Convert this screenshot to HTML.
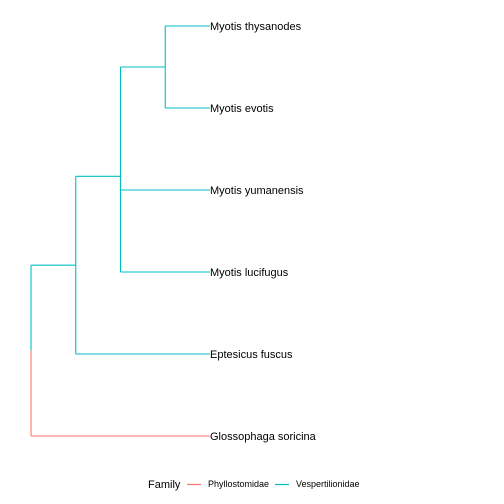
<!DOCTYPE html>
<html><head><meta charset="utf-8"><style>
html,body{margin:0;padding:0;background:#fff;}
svg{display:block;font-family:"Liberation Sans",sans-serif;}
</style></head><body>
<svg id="chart" width="504" height="504" xmlns="http://www.w3.org/2000/svg">
<g id="tree"></g>
<g>
<text x="148" y="488" font-size="11">Family</text>
<line x1="187" y1="484.5" x2="201" y2="484.5" stroke="#F8766D" stroke-width="1.2"/>
<text x="208" y="487" font-size="9">Phyllostomidae</text>
<line x1="275" y1="484.5" x2="289" y2="484.5" stroke="#00BFC4" stroke-width="1.2"/>
<text x="296" y="487" font-size="9">Vespertilionidae</text>
</g>
</svg>
<script>
// tips: name, family (order bottom to top)
const tipNames = ["Glossophaga soricina","Eptesicus fuscus","Myotis lucifugus","Myotis yumanensis","Myotis evotis","Myotis thysanodes"];
const tipFamily = ["Phyllostomidae","Vespertilionidae","Vespertilionidae","Vespertilionidae","Vespertilionidae","Vespertilionidae"];
// internal nodes: id, depth, children (tips as "t<i>", nodes as "n<i>")
const nodeDepth = [0,1,2,3];
const nodeChildren = [["t0","n1"],["t1","n2"],["t2","t3","n3"],["t4","t5"]];
const tipDepth = 4;
const familyColor = {"Phyllostomidae":"#F8766D","Vespertilionidae":"#00BFC4"};

const xScale = d => 31 + d * (210 - 31) / tipDepth;
const yScale = i => 436 - i * 82;
const g = document.getElementById('tree');
const NS = "http://www.w3.org/2000/svg";
function line(x1,y1,x2,y2,c,name){
  const l=document.createElementNS(NS,'line');
  l.setAttribute('x1',x1);l.setAttribute('y1',y1);l.setAttribute('x2',x2);l.setAttribute('y2',y2);
  l.setAttribute('stroke',c);l.setAttribute('stroke-width','1.1');
  
  
  g.appendChild(l);
}
function info(id){
  if(id[0]==='t'){const i=+id.slice(1);return {x:xScale(tipDepth),y:yScale(i),fam:[tipFamily[i]]};}
  const k=+id.slice(1);
  const ch=nodeChildren[k].map(info);
  const y=ch.reduce((s,c)=>s+c.y,0)/ch.length;
  return {x:xScale(nodeDepth[k]),y,ch,fam:[...new Set(ch.flatMap(c=>c.fam))]};
}
function colorOf(f){return f.length===1?familyColor[f[0]]:familyColor["Vespertilionidae"];}
function draw(id){
  const n=info(id);
  if(!n.ch) return n;
  const k=+id.slice(1);
  nodeChildren[k].forEach((cid,j)=>{
    const c=info(cid);
    const col=colorOf(c.fam);
    line(n.x,n.y,n.x,c.y,col,'branch-vertical-'+id+'-'+cid);
    line(n.x,c.y,c.x,c.y,col,'branch-'+cid);
    draw(cid);
  });
  return n;
}
draw("n0");
tipNames.forEach((nm,i)=>{
  const t=document.createElementNS(NS,'text');
  t.setAttribute('x',xScale(tipDepth));t.setAttribute('y',yScale(i)+4);
  t.setAttribute('font-size','11');t.textContent=nm;
  
  
  g.appendChild(t);
});
</script>
</body></html>
